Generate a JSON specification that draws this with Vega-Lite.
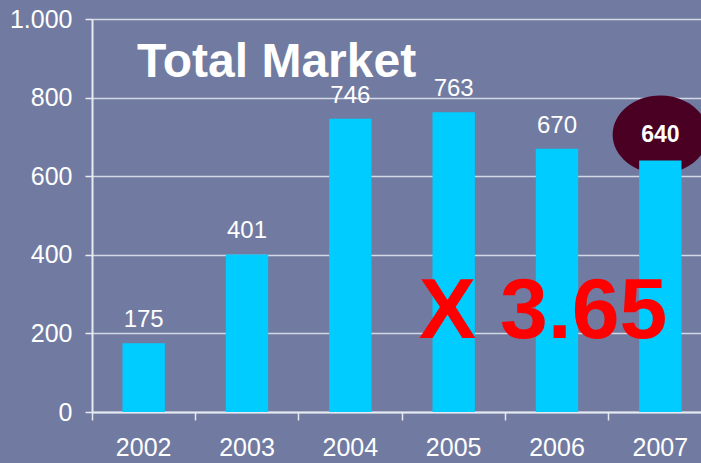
{
  "$schema": "https://vega.github.io/schema/vega-lite/v6.json",
  "autosize": {"type": "none"},
  "width": 609,
  "height": 393,
  "padding": {"left": 92, "top": 19, "right": 0, "bottom": 51},
  "background": "#717ba1",
  "config": {
    "view": {"stroke": null},
    "font": "Liberation Sans"
  },
  "title": {
    "text": "Total Market",
    "anchor": "start",
    "frame": "group",
    "orient": "top",
    "fontSize": 48,
    "fontWeight": "bold",
    "color": "#ffffff",
    "font": "Liberation Sans",
    "baseline": "alphabetic",
    "offset": 0,
    "dx": 45,
    "dy": 118
  },
  "data": {
    "values": [
      {"year": "2002", "value": 175},
      {"year": "2003", "value": 401},
      {"year": "2004", "value": 746},
      {"year": "2005", "value": 763},
      {"year": "2006", "value": 670},
      {"year": "2007", "value": 640}
    ]
  },
  "encoding": {
    "x": {
      "field": "year",
      "type": "nominal",
      "sort": null,
      "scale": {"domain": ["2002", "2003", "2004", "2005", "2006", "2007"], "range": [0, 620], "paddingInner": 0, "paddingOuter": 0},
      "axis": {
        "title": null,
        "labelAngle": 0,
        "bandPosition": 0,
        "labelFontSize": 25,
        "labelColor": "#ffffff",
        "labelFont": "Liberation Sans",
        "labelPadding": 15,
        "tickSize": 8,
        "tickColor": "#e8eaf2",
        "tickWidth": 1.5,
        "domainColor": "#e8eaf2",
        "domainWidth": 2,
        "grid": false,
        "labelBound": false,
        "labelFlush": false,
        "labelOverlap": false
      }
    },
    "y": {
      "type": "quantitative",
      "scale": {"domain": [0, 1000], "nice": false},
      "axis": {
        "title": null,
        "values": [0, 200, 400, 600, 800, 1000],
        "labelExpr": "datum.value == 1000 ? '1.000' : datum.label",
        "labelFontSize": 25,
        "labelColor": "#ffffff",
        "labelFont": "Liberation Sans",
        "labelPadding": 13,
        "tickSize": 7,
        "tickColor": "#e8eaf2",
        "tickWidth": 1.5,
        "domainColor": "#e8eaf2",
        "domainWidth": 2,
        "grid": true,
        "gridColor": "#d4d7e4",
        "gridWidth": 1.5,
        "labelFlush": false,
        "labelOverlap": false
      }
    }
  },
  "layer": [
    {
      "transform": [{"filter": "datum.year == '2007'"}],
      "mark": {
        "type": "point",
        "filled": true,
        "opacity": 1,
        "color": "#4a0022",
        "shape": "M-1,0 A1,0.82 0 1,0 1,0 A1,0.82 0 1,0 -1,0 Z",
        "size": 9100
      },
      "encoding": {
        "y": {"datum": 706}
      }
    },
    {
      "mark": {"type": "bar", "color": "#00ccff", "width": {"band": 0.41}},
      "encoding": {
        "y": {"field": "value"}
      }
    },
    {
      "transform": [{"filter": "datum.year != '2007'"}],
      "mark": {
        "type": "text",
        "color": "#ffffff",
        "fontSize": 24,
        "font": "Liberation Sans",
        "baseline": "alphabetic",
        "dy": -16
      },
      "encoding": {
        "y": {"field": "value"},
        "text": {"field": "value"}
      }
    },
    {
      "transform": [{"filter": "datum.year == '2007'"}],
      "mark": {
        "type": "text",
        "color": "#ffffff",
        "fontSize": 23,
        "fontWeight": "bold",
        "font": "Liberation Sans",
        "baseline": "middle"
      },
      "encoding": {
        "y": {"datum": 706},
        "text": {"field": "value"}
      }
    },
    {
      "transform": [{"filter": "datum.year == '2006'"}],
      "mark": {
        "type": "text",
        "color": "#ff0000",
        "fontSize": 86,
        "fontWeight": "bold",
        "font": "Liberation Sans",
        "baseline": "middle",
        "dx": -14
      },
      "encoding": {
        "y": {"datum": 255},
        "text": {"value": "X 3.65"}
      }
    }
  ]
}
